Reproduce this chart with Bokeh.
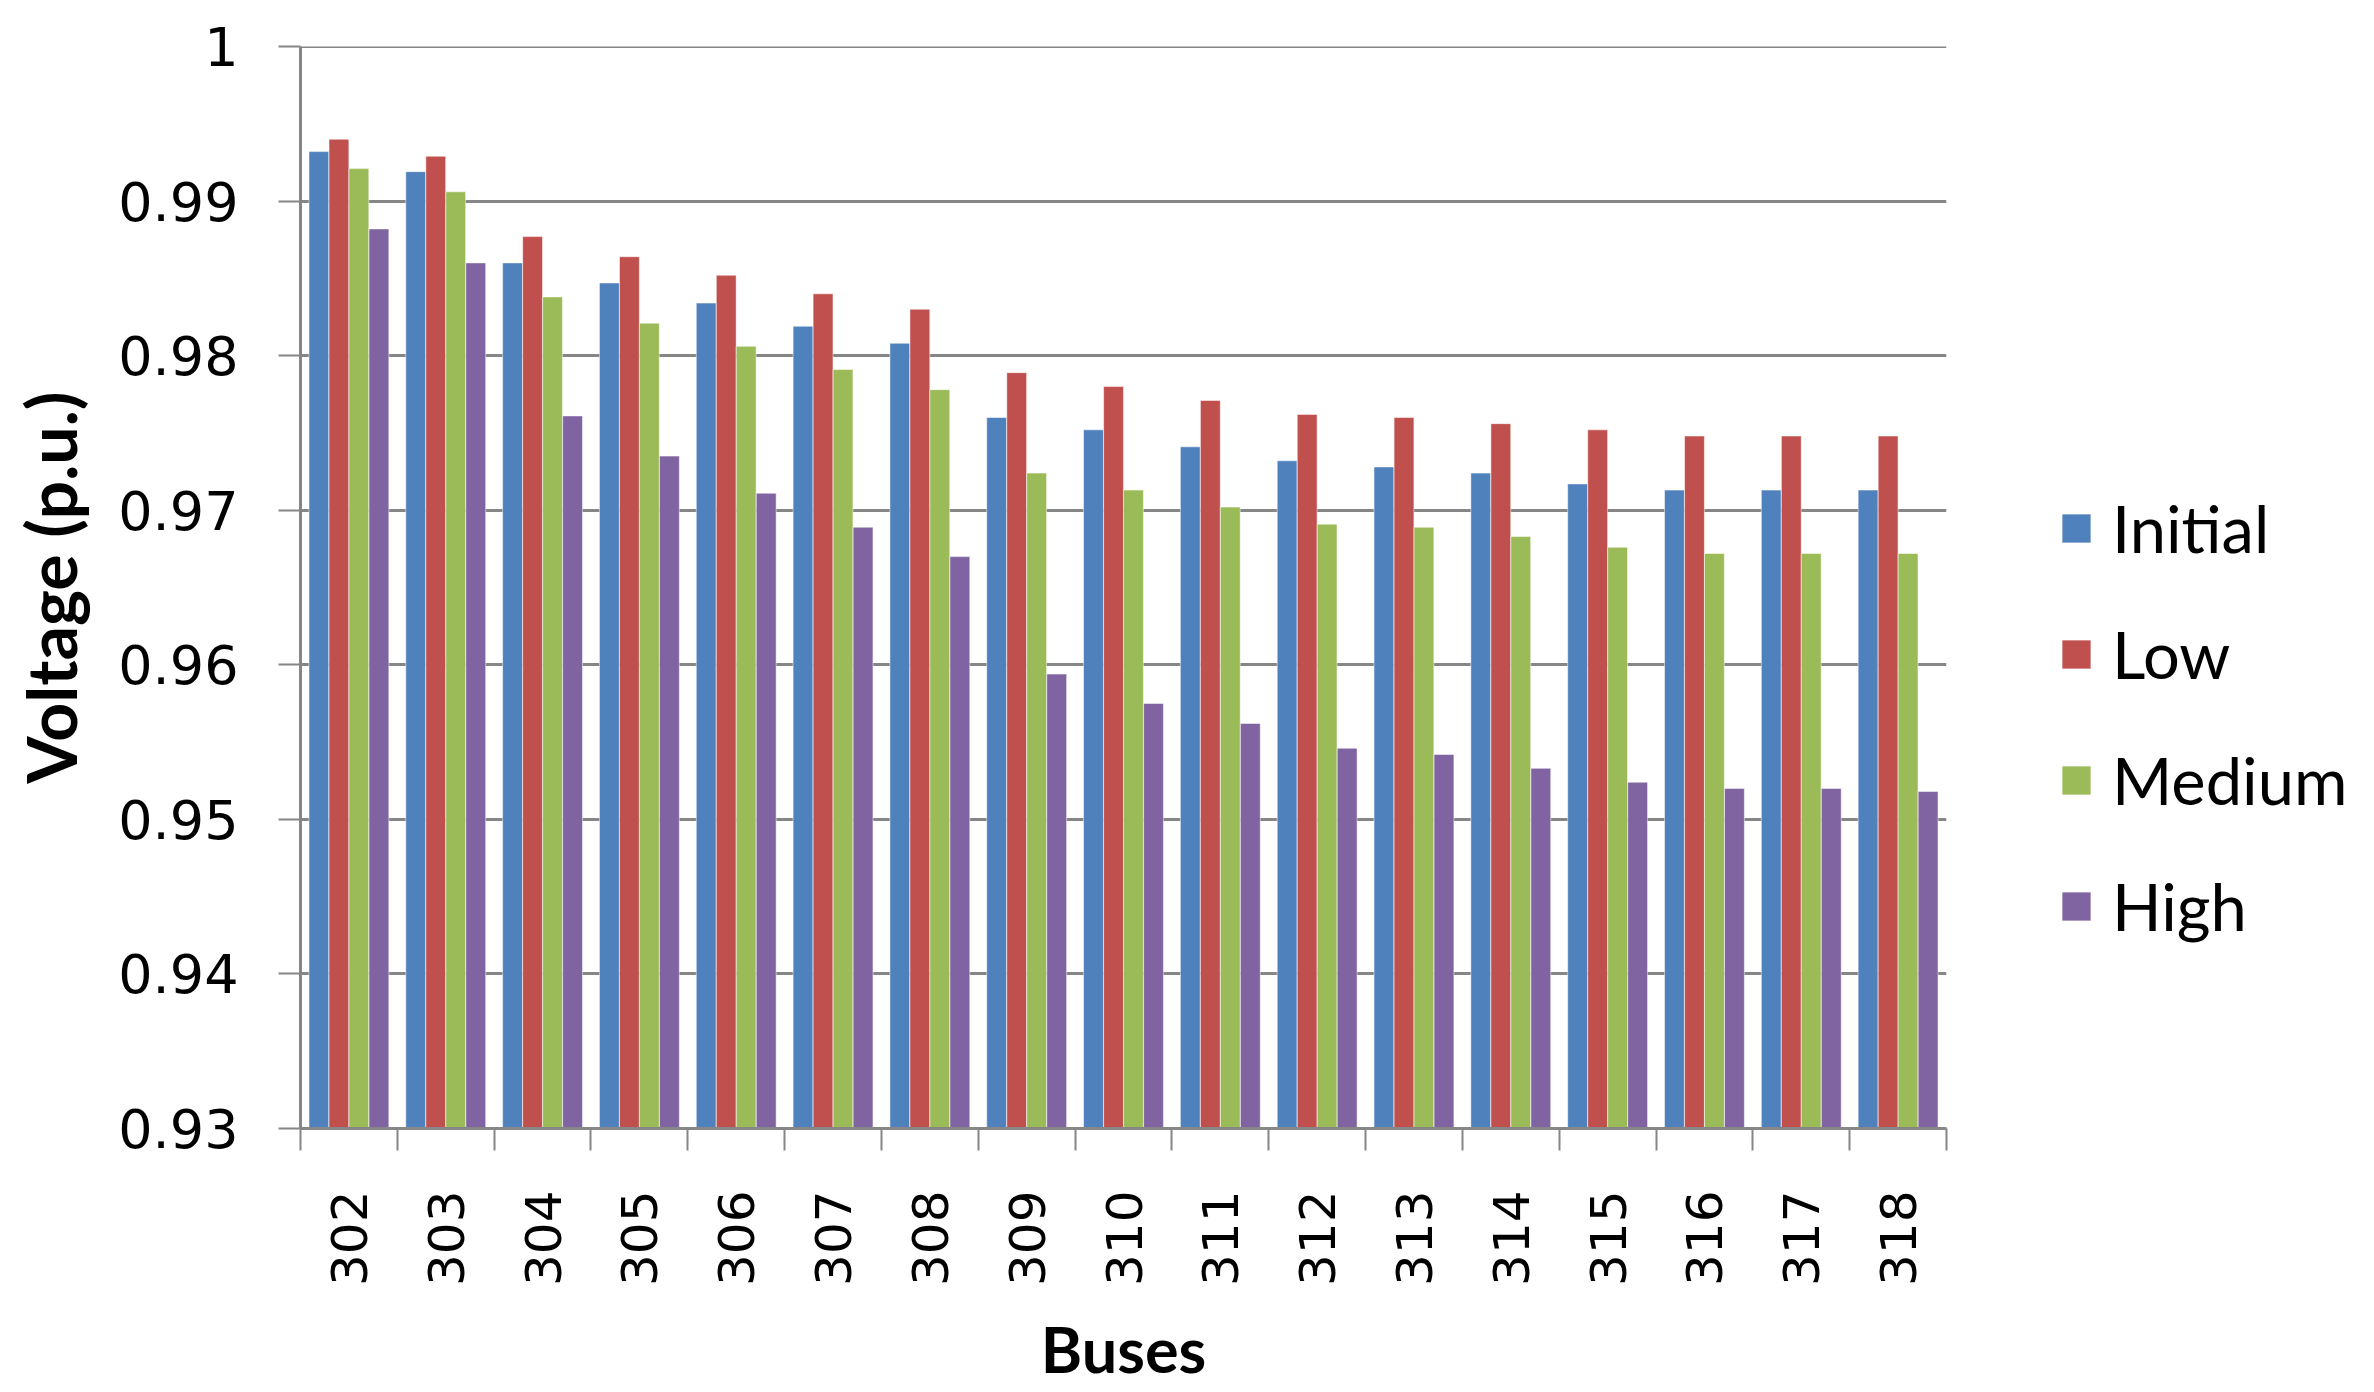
from bokeh.plotting import figure
from bokeh.models import (ColumnDataSource, Range1d, FixedTicker, CustomJSTickFormatter,
                          Legend, LegendItem, Span)
from bokeh.transform import dodge
from bokeh.embed import file_html
from bokeh.resources import INLINE
import math

buses = [302, 303, 304, 305, 306, 307, 308, 309, 310, 311, 312, 313, 314, 315, 316, 317, 318]
initial = [0.9932, 0.9919, 0.9860, 0.9847, 0.9834, 0.9819, 0.9808, 0.9760, 0.9752, 0.9741,
           0.9732, 0.9728, 0.9724, 0.9717, 0.9713, 0.9713, 0.9713]
low = [0.9940, 0.9929, 0.9877, 0.9864, 0.9852, 0.9840, 0.9830, 0.9789, 0.9780, 0.9771,
       0.9762, 0.9760, 0.9756, 0.9752, 0.9748, 0.9748, 0.9748]
medium = [0.9921, 0.9906, 0.9838, 0.9821, 0.9806, 0.9791, 0.9778, 0.9724, 0.9713, 0.9702,
          0.9691, 0.9689, 0.9683, 0.9676, 0.9672, 0.9672, 0.9672]
high = [0.9882, 0.9860, 0.9761, 0.9735, 0.9711, 0.9689, 0.9670, 0.9594, 0.9575, 0.9562,
        0.9546, 0.9542, 0.9533, 0.9524, 0.9520, 0.9520, 0.9518]
series_names = ["Initial", "Low", "Medium", "High"]
y_ticks = [0.93, 0.94, 0.95, 0.96, 0.97, 0.98, 0.99, 1.0]

colors = ["#4F81BD", "#C0504D", "#9BBB59", "#8064A2"]
offsets = [-0.31, -0.103, 0.103, 0.31]

src = ColumnDataSource(dict(bus=buses, Initial=initial, Low=low, Medium=medium, High=high))

p = figure(frame_width=1646, frame_height=1082, output_backend="svg", toolbar_location=None,
           x_range=Range1d(buses[0] - 0.5, buses[-1] + 0.5),
           y_range=Range1d(y_ticks[0], y_ticks[-1]),
           min_border_left=300, min_border_right=0, min_border_top=46,
           min_border_bottom=0)
p.outline_line_color = None
p.background_fill_color = "white"
p.border_fill_color = "white"

p.ygrid.ticker = FixedTicker(ticks=y_ticks)
p.ygrid.grid_line_color = "#868686"
p.ygrid.grid_line_width = 3
p.xgrid.grid_line_color = None
p.add_layout(Span(location=y_ticks[-1], dimension="width", line_color="#868686", line_width=3))

renderers = []
for name, col, off in zip(series_names, colors, offsets):
    r = p.vbar(x=dodge('bus', off, range=p.x_range), top=name, bottom=y_ticks[0], width=0.205,
               source=src, fill_color=col, line_color="white", line_alpha=0.5, line_width=1)
    renderers.append(r)

# y axis
p.yaxis.ticker = FixedTicker(ticks=y_ticks)
p.yaxis.formatter = CustomJSTickFormatter(code="return String(parseFloat(tick.toFixed(2)));")
p.yaxis.axis_label = "Voltage (p.u.)"
p.yaxis.axis_label_text_font = "Lato"
p.yaxis.axis_label_text_font_style = "bold"
p.yaxis.axis_label_text_font_size = "68px"
p.yaxis.axis_label_text_color = "black"
p.yaxis.axis_label_standoff = 24
p.yaxis.major_label_text_font = "DejaVu Sans"
p.yaxis.major_label_text_font_size = "54px"
p.yaxis.major_label_text_color = "black"
p.yaxis.major_label_standoff = 40
p.yaxis.major_tick_out = 22
p.yaxis.major_tick_in = 0
p.yaxis.minor_tick_out = 0
p.yaxis.minor_tick_in = 0
p.yaxis.axis_line_color = "#868686"
p.yaxis.axis_line_width = 3
p.yaxis.major_tick_line_color = "#868686"
p.yaxis.major_tick_line_width = 2

# x axis
bounds = [b - 0.5 for b in buses] + [buses[-1] + 0.5]
p.xaxis.ticker = FixedTicker(ticks=buses, minor_ticks=bounds)
p.xaxis.major_label_orientation = math.pi / 2
p.xaxis.axis_label = "Buses"
p.xaxis.axis_label_text_font = "Lato"
p.xaxis.axis_label_text_font_style = "bold"
p.xaxis.axis_label_text_font_size = "63px"
p.xaxis.axis_label_text_color = "black"
p.xaxis.axis_label_standoff = 22
p.xaxis.major_label_text_font = "DejaVu Sans"
p.xaxis.major_label_text_font_size = "50px"
p.xaxis.major_label_text_color = "black"
p.xaxis.major_label_standoff = 40
p.xaxis.major_tick_out = 0
p.xaxis.major_tick_in = 0
p.xaxis.minor_tick_out = 22
p.xaxis.minor_tick_in = 0
p.xaxis.minor_tick_line_color = "#868686"
p.xaxis.minor_tick_line_width = 2
p.xaxis.axis_line_color = "#868686"
p.xaxis.axis_line_width = 3

legend = Legend(items=[LegendItem(label=n, renderers=[r]) for n, r in zip(series_names, renderers)],
                location=(112, 183), orientation="vertical",
                glyph_width=36, glyph_height=36, label_standoff=18,
                label_text_font="Lato", label_text_font_size="65px", label_text_color="black",
                spacing=48, padding=0, margin=0,
                border_line_color=None, background_fill_alpha=0)
p.add_layout(legend, "right")

open("out.html", "w").write(file_html(p, INLINE))
